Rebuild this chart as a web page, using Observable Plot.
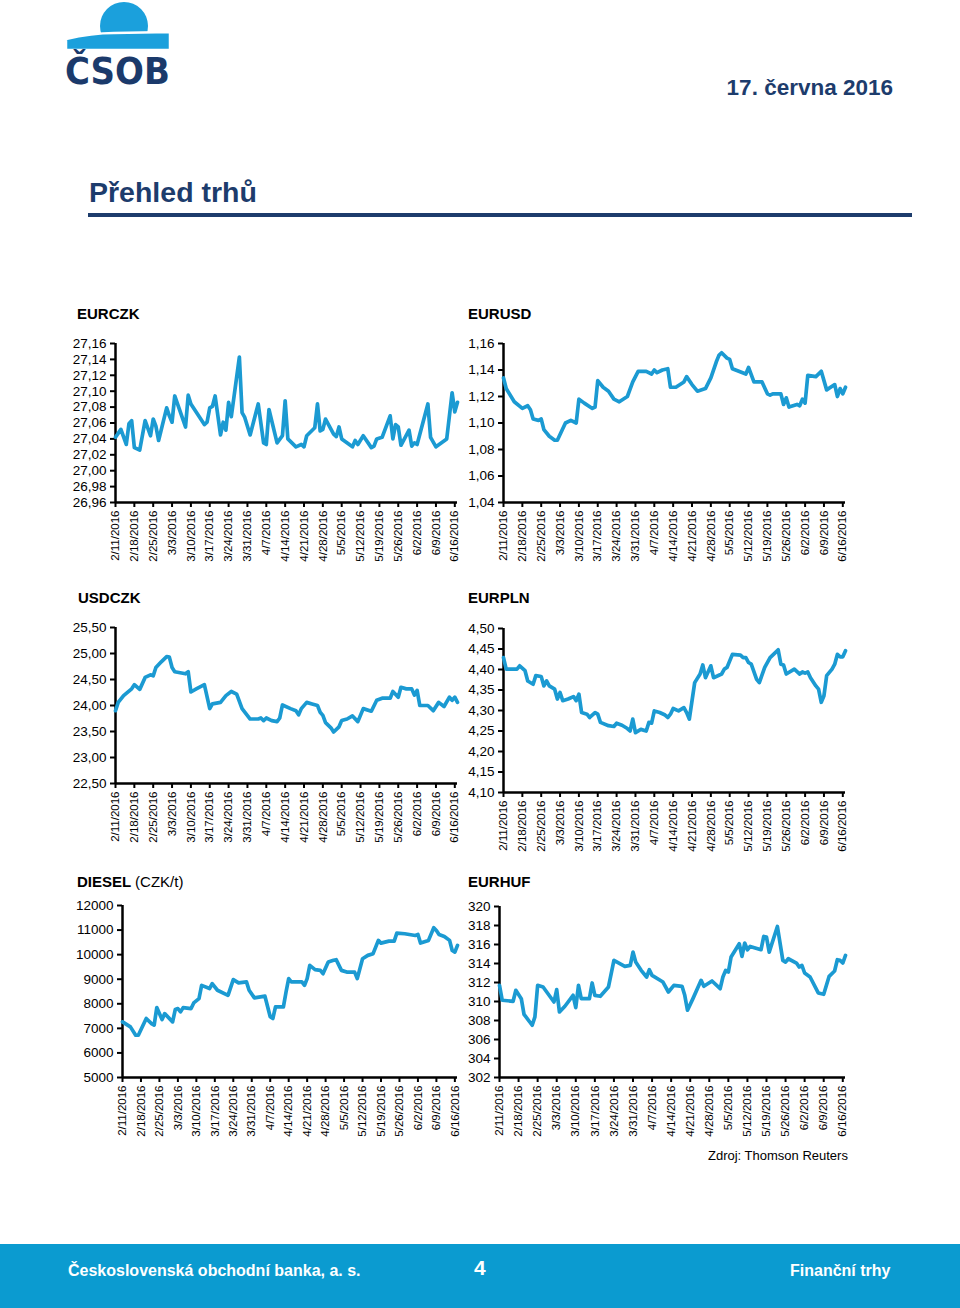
<!DOCTYPE html>
<html>
<head>
<meta charset="utf-8">
<script src="https://cdn.jsdelivr.net/npm/d3@7"></script>
<script src="https://cdn.jsdelivr.net/npm/@observablehq/plot@0.6"></script>
<style>
  body { margin: 0; background: #fff; font-family: "Liberation Sans", Arial, sans-serif; }
  #page { position: relative; width: 960px; height: 1308px; overflow: hidden; background: #fff; }
  .abs { position: absolute; }
  .ctitle { position: absolute; font-weight: bold; font-size: 15px; line-height: 16px; color: #000; white-space: nowrap; }
  .ctitle span { font-weight: normal; }
</style>
</head>
<body>
<div id="page">
  <svg class="abs" style="left:0;top:0" width="200" height="92">
    <circle cx="124" cy="26" r="24" fill="#1ba0dc"></circle>
    <path d="M66,39 Q92,33 114,33 L170,32 L170,50 L66,50 Z" fill="#1ba0dc" stroke="#fff" stroke-width="2.5"></path>
    <text x="65" y="84" font-family="DejaVu Sans" font-weight="900" font-size="38" fill="#1b3a6b" textLength="105" lengthAdjust="spacingAndGlyphs">ČSOB</text>
  </svg>
  <div class="abs" style="right:67px;top:76px;font-weight:bold;font-size:22.5px;line-height:24px;color:#1d3c6c;">17. června 2016</div>
  <div class="abs" style="left:89px;top:177px;font-weight:bold;font-size:28.5px;line-height:30px;color:#1d3c6c;">Přehled trhů</div>
  <div class="abs" style="left:88px;top:213px;width:824px;height:4px;background:#1d3c6c;"></div>

  <div class="ctitle" style="left:77px;top:306px;">EURCZK</div>
  <div class="ctitle" style="left:468px;top:306px;">EURUSD</div>
  <div class="ctitle" style="left:78px;top:590px;">USDCZK</div>
  <div class="ctitle" style="left:468px;top:590px;">EURPLN</div>
  <div class="ctitle" style="left:77px;top:874px;">DIESEL <span>(CZK/t)</span></div>
  <div class="ctitle" style="left:468px;top:874px;">EURHUF</div>

  <div class="abs" style="left:708px;top:1148px;font-size:13px;line-height:16px;color:#000;">Zdroj: Thomson Reuters</div>

  <div class="abs" style="left:0;top:1244px;width:960px;height:64px;background:#0b9bd0;"></div>
  <div class="abs" style="left:68px;top:1262px;font-size:16px;line-height:18px;font-weight:bold;color:#fff;">Československá obchodní banka, a. s.</div>
  <div class="abs" style="left:474px;top:1256px;font-size:21px;line-height:24px;font-weight:bold;color:#fff;">4</div>
  <div class="abs" style="left:790px;top:1262px;font-size:16px;line-height:18px;font-weight:bold;color:#fff;">Finanční trhy</div>
</div>
<script>
// ---- data: day offsets from 2/11/2016 and values ----
const startDate = "2/11/2016";
const endDate = "6/17/2016";
const xTickLabels = ["2/11/2016","2/18/2016","2/25/2016","3/3/2016","3/10/2016","3/17/2016","3/24/2016","3/31/2016","4/7/2016","4/14/2016","4/21/2016","4/28/2016","5/5/2016","5/12/2016","5/19/2016","5/26/2016","6/2/2016","6/9/2016","6/16/2016"];

const eurczkDays = [0,2,4,5,6,7,9,11,13,14,15,16,19,20,21,22,26,27,28,33,34,35,36,37,39,40,41,42,43,46,47,48,50,53,55,56,57,60,62,63,64,67,69,70,71,74,75,76,77,78,81,82,83,84,88,89,90,92,95,96,97,99,102,103,104,105,106,109,110,111,112,116,117,119,123,125,126,127];
const eurczkValues = [27.042,27.052,27.033,27.059,27.063,27.029,27.026,27.063,27.044,27.065,27.056,27.038,27.079,27.069,27.061,27.094,27.055,27.095,27.084,27.058,27.061,27.079,27.081,27.094,27.045,27.061,27.051,27.086,27.068,27.143,27.073,27.067,27.045,27.084,27.035,27.033,27.077,27.035,27.044,27.088,27.040,27.030,27.033,27.030,27.044,27.054,27.084,27.050,27.052,27.065,27.046,27.043,27.055,27.040,27.030,27.038,27.033,27.044,27.029,27.031,27.040,27.042,27.069,27.040,27.058,27.055,27.032,27.051,27.031,27.035,27.033,27.084,27.042,27.030,27.040,27.098,27.074,27.086];
const eurczkTicks = [26.96,26.98,27.00,27.02,27.04,27.06,27.08,27.10,27.12,27.14,27.16];

const eurusdDays = [0,1,4,7,9,10,11,13,14,15,17,19,20,23,25,27,28,30,33,34,35,37,39,41,43,46,48,50,52,53,55,56,57,59,61,62,64,67,68,70,72,75,77,79,80,81,83,84,85,90,91,93,96,98,99,100,103,104,105,106,109,110,111,112,113,116,118,120,123,124,125,126,127];
const eurusdValues = [1.134,1.126,1.116,1.111,1.113,1.110,1.103,1.102,1.103,1.095,1.090,1.087,1.087,1.100,1.102,1.100,1.118,1.115,1.111,1.112,1.132,1.127,1.124,1.118,1.116,1.120,1.131,1.139,1.139,1.139,1.137,1.140,1.138,1.140,1.141,1.127,1.127,1.131,1.135,1.129,1.124,1.126,1.134,1.146,1.151,1.153,1.149,1.148,1.141,1.137,1.142,1.131,1.131,1.122,1.121,1.122,1.122,1.114,1.119,1.112,1.114,1.113,1.118,1.115,1.136,1.135,1.139,1.125,1.129,1.120,1.126,1.122,1.127];
const eurusdTicks = [1.04,1.06,1.08,1.10,1.12,1.14,1.16];

const usdczkDays = [0,1,3,6,7,9,11,13,14,15,17,19,20,21,22,26,27,28,30,33,35,36,39,41,43,45,47,50,53,54,55,56,58,60,61,62,65,67,68,69,71,73,75,76,77,78,80,81,83,84,86,88,90,92,95,97,99,102,103,105,106,108,110,111,112,113,116,118,120,122,124,125,126,127];
const usdczkValues = [23.90,24.06,24.19,24.32,24.40,24.31,24.54,24.59,24.57,24.73,24.84,24.94,24.93,24.73,24.65,24.61,24.65,24.26,24.32,24.40,23.94,24.03,24.06,24.19,24.27,24.22,23.94,23.74,23.74,23.76,23.71,23.76,23.71,23.69,23.76,24.01,23.94,23.90,23.82,23.94,24.06,24.03,24.00,23.87,23.81,23.67,23.57,23.49,23.59,23.71,23.74,23.80,23.69,23.94,23.89,24.10,24.14,24.14,24.27,24.16,24.35,24.32,24.32,24.20,24.29,24.00,24.00,23.90,24.06,23.98,24.16,24.10,24.16,24.06];
const usdczkTicks = [22.5,23.0,23.5,24.0,24.5,25.0,25.5];

const eurplnDays = [0,1,5,6,8,9,11,12,14,15,16,17,19,20,21,22,24,26,27,28,29,31,32,34,35,36,39,41,42,44,46,47,48,49,51,53,54,55,56,58,60,61,62,63,65,67,68,69,71,73,74,75,77,78,81,82,83,85,88,89,90,91,92,94,95,97,99,102,103,104,105,108,110,111,112,113,114,116,117,118,119,120,122,123,124,125,126,127];
const eurplnValues = [4.429,4.401,4.401,4.409,4.397,4.372,4.364,4.385,4.383,4.360,4.372,4.360,4.352,4.328,4.344,4.324,4.328,4.334,4.324,4.340,4.295,4.291,4.283,4.295,4.291,4.271,4.263,4.261,4.269,4.264,4.256,4.250,4.279,4.246,4.254,4.250,4.271,4.269,4.299,4.295,4.289,4.283,4.291,4.305,4.299,4.307,4.295,4.279,4.368,4.389,4.411,4.380,4.409,4.380,4.389,4.401,4.405,4.437,4.435,4.429,4.429,4.417,4.413,4.376,4.368,4.405,4.429,4.448,4.413,4.411,4.389,4.401,4.389,4.394,4.391,4.394,4.380,4.360,4.352,4.320,4.336,4.385,4.401,4.413,4.437,4.431,4.431,4.446];
const eurplnTicks = [4.10,4.15,4.20,4.25,4.30,4.35,4.40,4.45,4.50];

const dieselDays = [0,3,5,6,9,11,12,13,15,16,19,20,21,22,23,26,27,29,30,33,34,36,40,42,44,47,48,50,54,56,57,58,61,62,63,64,68,69,70,71,73,75,76,78,80,81,83,85,88,89,91,93,95,97,98,101,103,104,107,111,112,113,116,118,119,120,122,124,125,126,127];
const dieselValues = [7265,7060,6720,6720,7400,7195,7130,7845,7360,7600,7265,7765,7805,7670,7845,7805,8035,8210,8750,8620,8820,8550,8345,8985,8850,8890,8550,8240,8310,7470,7400,7875,7875,8480,9025,8890,8890,8750,9025,9565,9390,9360,9225,9700,9770,9795,9360,9290,9290,9025,9835,9970,10040,10580,10470,10550,10550,10875,10850,10780,10820,10470,10580,11095,10985,10820,10740,10580,10170,10105,10375];
const dieselTicks = [5000,6000,7000,8000,9000,10000,11000,12000];

const eurhufDays = [0,1,5,6,8,9,12,13,14,16,20,21,22,24,27,28,29,30,33,34,35,37,40,42,46,48,49,50,52,54,55,56,60,62,64,67,68,69,71,74,75,78,81,82,83,84,85,88,89,90,91,92,96,97,98,99,102,104,105,106,109,110,111,112,114,117,119,121,123,124,125,126,127];
const eurhufValues = [311.70,310.13,310.02,311.18,310.30,308.65,307.50,308.38,311.70,311.53,309.95,311.25,308.90,309.50,310.65,309.36,311.70,310.30,310.30,311.95,310.65,310.55,311.53,314.33,313.70,313.80,315.20,314.15,313.28,312.58,313.35,312.75,312.05,311.00,311.70,311.60,310.65,309.08,310.30,312.23,311.60,312.16,311.35,312.58,313.28,313.10,314.68,316.08,314.75,316.15,315.45,315.80,315.45,316.85,316.78,315.20,317.90,314.33,314.15,314.50,314.05,313.63,313.80,313.00,312.58,310.90,310.76,312.65,313.21,314.40,314.33,314.05,314.85];
const eurhufTicks = [302,304,306,308,310,312,314,316,318,320];

// ---- drawing ----
const parseDate = d3.timeParse("%m/%d/%Y");
const START = parseDate(startDate);
const END = parseDate(endDate);
const xTicks = xTickLabels.map(parseDate);
const LINE = "#1b9ad2";
const comma = (digits) => (v) => v.toFixed(digits).replace(".", ",");

function chart({days, values, ticks, fmt, left, top, width, height, mLeft, mRight, mTop, mBottom}) {
  const data = days.map((d, i) => ({date: d3.timeDay.offset(START, d), value: values[i]}));
  const domain = [ticks[0], ticks[ticks.length - 1]];
  const svg = Plot.plot({
    width, height,
    marginLeft: mLeft, marginRight: mRight, marginTop: mTop, marginBottom: mBottom,
    style: {fontFamily: "'Liberation Sans', Arial, sans-serif", color: "#000", background: "transparent", overflow: "visible"},
    x: {type: "time", domain: [START, END]},
    y: {domain},
    marks: [
      Plot.axisY({ticks, tickFormat: fmt, tickSize: 5, tickPadding: 4, fontSize: 13.5, strokeWidth: 2, label: null}),
      Plot.axisX({ticks: xTicks, tickFormat: d3.timeFormat("%-m/%-d/%Y"), tickRotate: -90, tickSize: 5, tickPadding: 3, fontSize: 11.5, strokeWidth: 2, label: null}),
      Plot.ruleY([domain[0]], {stroke: "#000", strokeWidth: 2.5}),
      Plot.ruleX([START], {stroke: "#000", strokeWidth: 2.5}),
      Plot.lineY(data, {x: "date", y: "value", stroke: LINE, strokeWidth: 3.7, strokeLinejoin: "round"})
    ]
  });
  const wrap = document.createElement("div");
  wrap.className = "abs";
  wrap.style.left = left + "px";
  wrap.style.top = top + "px";
  wrap.appendChild(svg);
  document.getElementById("page").appendChild(wrap);
}

chart({days: eurczkDays, values: eurczkValues, ticks: eurczkTicks, fmt: comma(2), left: 70, top: 330, width: 400, height: 234, mLeft: 45, mRight: 13, mTop: 13, mBottom: 62});
chart({days: eurusdDays, values: eurusdValues, ticks: eurusdTicks, fmt: comma(2), left: 460, top: 330, width: 400, height: 234, mLeft: 43, mRight: 15, mTop: 13, mBottom: 62});
chart({days: usdczkDays, values: usdczkValues, ticks: usdczkTicks, fmt: comma(2), left: 70, top: 614, width: 400, height: 231, mLeft: 45, mRight: 13, mTop: 13, mBottom: 62});
chart({days: eurplnDays, values: eurplnValues, ticks: eurplnTicks, fmt: comma(2), left: 460, top: 615, width: 400, height: 239, mLeft: 43, mRight: 15, mTop: 13, mBottom: 62});
chart({days: dieselDays, values: dieselValues, ticks: dieselTicks, fmt: comma(0), left: 70, top: 892, width: 400, height: 247, mLeft: 52, mRight: 13, mTop: 13, mBottom: 62});
chart({days: eurhufDays, values: eurhufValues, ticks: eurhufTicks, fmt: comma(0), left: 460, top: 893, width: 400, height: 246, mLeft: 39, mRight: 15, mTop: 13, mBottom: 62});
</script>
</body>
</html>
